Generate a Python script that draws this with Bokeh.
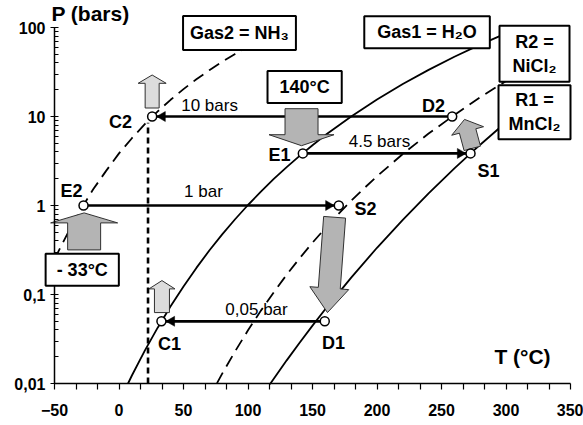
import math
from bokeh.plotting import figure
from bokeh.models import FixedTicker, Label, Range1d
from bokeh.core.properties import value
from bokeh.embed import file_html
from bokeh.resources import INLINE

FONT = "Liberation Sans"

# ---------------- data ----------------
# Gas2 = NH3 (dashed, left)
nh3_T = [-50, -40, -30, -20, -10, 0, 10, 20, 30, 40, 50, 60, 70, 80, 90, 100, 110]
nh3_P = [0.25, 0.48, 0.88, 1.52, 2.45, 3.85, 5.7, 8.2, 11.4, 15.4, 20.3, 26.2, 33.1, 41.2, 50.5, 61.0, 73.0]
# Gas1 = H2O (solid)
h2o_T = [7, 10, 20, 30, 40, 50, 60, 70, 80, 90, 100, 110, 120, 130, 140, 150, 160, 180, 200, 220, 240, 260, 280, 300]
h2o_P = [0.010, 0.0123, 0.0234, 0.0424, 0.0738, 0.123, 0.199, 0.312, 0.474, 0.701, 1.013, 1.43, 1.99, 2.70,
         3.61, 4.76, 6.18, 10.0, 15.5, 23.2, 33.4, 46.9, 64.2, 85.9]
# R2 = NiCl2 (dashed, right)
nicl2_T = [76, 80, 90, 100, 110, 120, 130, 140, 150, 160, 170, 180, 190, 200, 220, 240, 260, 280, 300]
nicl2_P = [0.0101, 0.0129, 0.0230, 0.0396, 0.0659, 0.106, 0.167, 0.255, 0.382, 0.558, 0.802, 1.13, 1.56,
           2.13, 3.79, 6.43, 10.4, 16.5, 25.0]
# R1 = MnCl2 (solid, right)
mncl2_T = [117, 130, 140, 150, 160, 180, 200, 220, 240, 260, 280, 300]
mncl2_P = [0.0098, 0.0182, 0.0287, 0.0447, 0.0686, 0.155, 0.335, 0.690, 1.37, 2.61, 4.82, 8.61]

# state points
point_names = ["C2", "E2", "C1", "D1", "S2", "E1", "S1", "D2"]
point_T = [25.7, -27.5, 32.9, 159.5, 170.4, 142.5, 272.5, 258.3]
point_P = [10.0, 1.0, 0.05, 0.05, 1.0, 3.85, 3.85, 10.0]
point_label_T = [1.2, -36.8, 39.1, 166.3, 191.1, 124.4, 286.4, 243.8]
point_label_P = [8.61, 1.466, 0.0281, 0.0288, 0.92, 3.72, 2.46, 13.2]

# isobaric transfers
flow_from = ["D2", "E1", "E2", "D1"]
flow_to = ["C2", "S1", "S2", "C1"]
flow_labels = ["10 bars", "4.5 bars", "1 bar", "0,05 bar"]
flow_label_T = [70.2, 201.9, 65.5, 106.6]
flow_label_P = [13.2, 5.2, 1.43, 0.0677]

T_condenser = 22.5  # vertical dashed line

x_ticks = [-50, 0, 50, 100, 150, 200, 250, 300, 350]
y_ticks = [0.01, 0.1, 1, 10, 100]
y_tick_labels = ["0,01", "0,1", "1", "10", "100"]

# ---------------- layout ----------------
W, H = 583, 425
X_MIN, X_MAX, Y_MIN, Y_MAX = -50, 350, 0.01, 100      # axes extent
AX_LEFT, AX_RIGHT, AX_TOP, AX_BOTTOM = 54, 570, 27, 383  # axes box in page pixels
SX = (AX_RIGHT - AX_LEFT) / (X_MAX - X_MIN)
SY = (AX_BOTTOM - AX_TOP) / (math.log10(Y_MAX) - math.log10(Y_MIN))
x_lo = X_MIN - AX_LEFT / SX
x_hi = X_MAX + (W - AX_RIGHT) / SX
y_lo = 10 ** (math.log10(Y_MIN) - (H - AX_BOTTOM) / SY)
y_hi = 10 ** (math.log10(Y_MAX) + AX_TOP / SY)

p = figure(width=W, height=H, x_range=Range1d(x_lo, x_hi), y_range=Range1d(y_lo, y_hi),
           y_axis_type="log", output_backend="svg", toolbar_location=None, title=None,
           min_border=0)
p.outline_line_color = None
p.grid.visible = False
p.background_fill_color = "white"
p.border_fill_color = "white"

x_minor = [X_MIN + k * 50 / 3 for k in range(25) if k % 3 != 0]
y_minor = [m * 10 ** e for e in range(-2, 2) for m in range(2, 10)]

xa = p.xaxis[0]
xa.ticker = FixedTicker(ticks=x_ticks, minor_ticks=x_minor)
xa.fixed_location = Y_MIN
xa.bounds = (X_MIN, X_MAX)
ya = p.yaxis[0]
ya.ticker = FixedTicker(ticks=y_ticks, minor_ticks=y_minor)
ya.major_label_overrides = {t: s for t, s in zip(y_ticks, y_tick_labels)}
ya.fixed_location = X_MIN
ya.bounds = (Y_MIN, Y_MAX)
for ax in (xa, ya):
    ax.axis_line_color = "black"
    ax.axis_line_width = 1.5
    ax.major_tick_line_color = "black"
    ax.minor_tick_line_color = "black"
    ax.major_tick_line_width = 1.2
    ax.minor_tick_line_width = 1.2
    ax.major_label_text_font = FONT
    ax.major_label_text_font_style = "bold"
    ax.major_label_text_font_size = "16px"
    ax.major_label_text_color = "black"
xa.major_tick_in, xa.major_tick_out = 0, 6
xa.minor_tick_in, xa.minor_tick_out = 0, 6
xa.major_label_standoff = 14
ya.major_tick_in, ya.major_tick_out = 4, 4
ya.minor_tick_in, ya.minor_tick_out = 4, 0
ya.major_label_standoff = 5

# ---------------- curves ----------------
p.line(nh3_T, nh3_P, line_color="black", line_width=1.8, line_dash="12 7")
p.line(h2o_T, h2o_P, line_color="black", line_width=1.8)
p.line(nicl2_T, nicl2_P, line_color="black", line_width=1.8, line_dash="12 7")
p.line(mncl2_T, mncl2_P, line_color="black", line_width=1.8)

idx = {n: i for i, n in enumerate(point_names)}
c2 = idx["C2"]
p.line([T_condenser, T_condenser], [Y_MIN, point_P[c2] * 0.85], line_color="black",
       line_width=2.6, line_dash="6 4")

# isobaric lines with heads
fx0 = [point_T[idx[a]] for a in flow_from]
fy0 = [point_P[idx[a]] for a in flow_from]
fx1 = [point_T[idx[b]] for b in flow_to]
fy1 = [point_P[idx[b]] for b in flow_to]
p.segment(x0=fx0, y0=fy0, x1=fx1, y1=fy1, line_color="black", line_width=2.7)

R_CIRCLE = 4.5
HEAD = 10
head_T, head_P, head_A = [], [], []
for a0, a1, b0, b1 in zip(fx0, fy0, fx1, fy1):
    sgn = 1 if a0 > b0 else -1
    off = (R_CIRCLE + HEAD * math.sqrt(3) / 2 * 2 / 3) / SX
    head_T.append(b0 + sgn * off)
    head_P.append(b1)
    head_A.append(math.pi / 2 if sgn > 0 else -math.pi / 2)
p.scatter(head_T, head_P, marker="triangle", size=HEAD, angle=head_A,
          fill_color="black", line_color="black", line_width=0.5)


# ---------------- block arrows ----------------
def block_arrow(name, off, angle_deg, L, hl, hw, sw):
    T0, P0 = point_T[idx[name]], point_P[idx[name]]
    pts = [(0, 0), (hw / 2, hl), (sw / 2, hl), (sw / 2, L), (-sw / 2, L), (-sw / 2, hl), (-hw / 2, hl)]
    a = math.radians(angle_deg)
    c, s = math.cos(a), math.sin(a)
    xs, ys = [], []
    for lx, ly in pts:
        rx = c * lx - s * ly + off[0]
        ry = s * lx + c * ly + off[1]
        xs.append(T0 + rx / SX)
        ys.append(P0 * 10 ** (-ry / SY))
    return xs, ys


LIGHT, MED = "#dcdcdc", "#b4b4b4"
arrow_specs = [
    ("C2", (0.0, -41.5), 0, 33, 8.3, 28, 14, LIGHT),
    ("C1", (0.5, -40.7), 0, 32, 8.3, 26, 15, LIGHT),
    ("E1", (-1.3, -7.7), 180, 37, 11, 65, 33, MED),
    ("E2", (0.6, 7.4), 0, 37, 10, 67, 33, MED),
    ("D1", (2.7, -8.7), 184.3, 95.6, 24.5, 39, 22, MED),
    ("S1", (-6.0, -34.0), -15, 30, 12, 33, 17, MED),
]
for name, off, ang, L, hl, hw, sw, col in arrow_specs:
    xs, ys = block_arrow(name, off, ang, L, hl, hw, sw)
    p.patch(xs, ys, fill_color=col, line_color="#303030", line_width=1)

# state point circles
p.scatter(point_T, point_P, marker="circle", size=9, fill_color="white", line_color="black", line_width=1.5)

# ---------------- texts ----------------
p.text(x=point_label_T, y=point_label_P, text=point_names, text_font=value(FONT), text_font_style="bold",
       text_font_size="18px", text_align="center", text_baseline="middle", text_color="black")
p.text(x=flow_label_T, y=flow_label_P, text=flow_labels, text_font=value(FONT),
       text_font_size="17px", text_align="center", text_baseline="middle", text_color="black")

box_texts = ["Gas2 = NH\u2083", "Gas1 = H\u2082O", "140°C", "- 33°C", "R2 =\nNiCl\u2082", "R1 =\nMnCl\u2082"]
box_T = [93.4, 238.8, 143.9, -28.5, 322.1, 322.1]
box_P = [86.9, 88.7, 21.5, 0.190, 50.6, 11.15]
box_pad = [(7, 7), (13, 6), (12, 6), (11, 6), (13, 6), (10, 5)]  # (horizontal, vertical)
for t, bx, by, pad in zip(box_texts, box_T, box_P, box_pad):
    p.add_layout(Label(x=bx, y=by, text=t, text_font=FONT, text_font_style="bold", text_font_size="18px",
                       text_align="center", text_baseline="middle", text_color="black",
                       background_fill_color="white", border_line_color="black", border_line_width=2,
                       padding=pad))

p.add_layout(Label(x=-22.1, y=143.6, text="P (bars)", text_font=FONT, text_font_style="bold",
                   text_font_size="21px", text_align="center", text_baseline="middle", text_color="black"))
p.add_layout(Label(x=312.8, y=0.0201, text="T (°C)", text_font=FONT, text_font_style="bold",
                   text_font_size="21px", text_align="center", text_baseline="middle", text_color="black"))

open("out.html", "w").write(file_html(p, INLINE))
